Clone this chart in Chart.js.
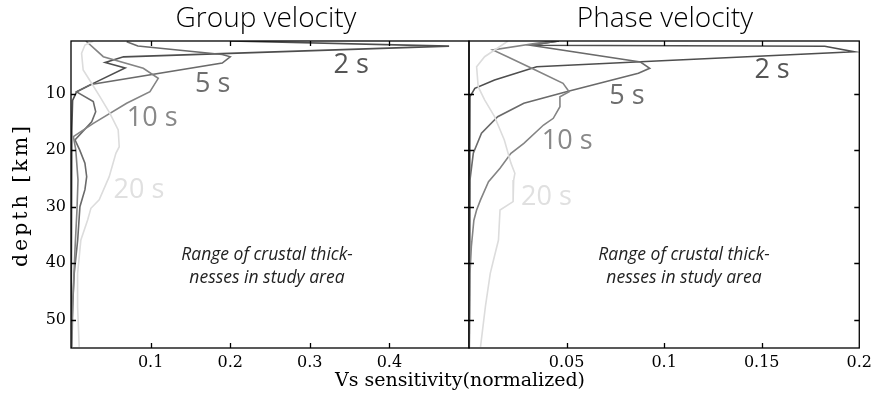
<!DOCTYPE html>
<html><head><meta charset="utf-8">
<script src="https://cdn.jsdelivr.net/npm/chart.js@4.4.1/dist/chart.umd.min.js"></script>
<style>
html,body{margin:0;padding:0;background:#fff;}
#wrap{position:relative;width:877px;height:399px;background:#fff;}
canvas{position:absolute;left:0;top:0;}
</style></head><body>
<div id="wrap"><canvas id="c1" width="877" height="399"></canvas><canvas id="c2" width="877" height="399"></canvas></div>
<script>
// ---------- data ----------
const periods = ['2 s', '5 s', '10 s', '20 s'];
const depthTicks = [10, 20, 30, 40, 50];
const groupXTicks = [0.1, 0.2, 0.3, 0.4];
const phaseXTicks = [0.05, 0.1, 0.15, 0.2];

// Group velocity sensitivity kernels (sensitivity, depth km)
const groupSens2  = [0.200, 0.475, 0.066, 0.043, 0.068, 0.028, 0.007, 0.002, 0.001, 0.0005, 0.0, 0.0];
const groupDepth2 = [0.7,   1.6,   3.5,   4.5,   5.45,  8.2,   9.7,   11.2,  16.5,  25,     30,  55];
const groupSens5  = [0.070, 0.084, 0.190, 0.200, 0.190, 0.025, 0.007, 0.028, 0.031, 0.026, 0.005, 0.011, 0.0175, 0.0197, 0.0175, 0.0112, 0.0084, 0.0041, 0.002, 0.001, 0.0005];
const groupDepth5 = [0.85,  1.6,   3.1,   3.5,   4.6,   8.4,   9.7,   11.4,  13.2,  15.0,  18.2,  20.0,  22.3,   24.7,   27.0,   30.0,   35.9,   41.7,   47.7,  51.8,  54.8];
const groupSens10  = [0.0187, 0.0406, 0.0908, 0.1096, 0.0992, 0.0699, 0.0281, 0.003, 0.006, 0.0088, 0.0075, 0.005, 0.0024, 0.0011];
const groupDepth10 = [0.7,    3.48,   5.53,   7.3,    9.67,   11.72,  15.26,  17.6,  19.96, 25.3,   30.6,   37.6,  46.5,   54.8];
const groupSens20  = [0.0279, 0.0175, 0.0133, 0.0153, 0.0259, 0.0363, 0.0489, 0.0593, 0.0606, 0.0564, 0.048, 0.0354, 0.025, 0.0209, 0.0124, 0.0083, 0.0083, 0.0103];
const groupDepth20 = [0.73,   1.41,   2.88,   5.83,   8.18,   10.55,  13.49,  16.44,  19.4,   20.56,  24.7,  28.8,   30.29, 32.36,  35.9,   41.8,   47.7,   54.8];

// Phase velocity sensitivity kernels
const phaseSens2  = [0.046, 0.0315, 0.1823, 0.1973, 0.096, 0.0347, 0.0131, 0.003, 0.0005, 0.0003, 0.0001, 0.0, 0.0];
const phaseDepth2 = [0.7,   1.46,   1.64,   2.59,   4.24,  5.25,   7.6,    9.07,  10.55,  16.4,   25.3,   37.7, 54.8];
const phaseSens5  = [0.046, 0.0315, 0.0879, 0.0926, 0.0868, 0.0499, 0.0281, 0.0147, 0.0064, 0.0022, 0.0005, 0.0003, 0.0001, 0.0];
const phaseDepth5 = [0.7,   1.46,   4.41,   5.53,   6.41,   9.67,   11.72,  14.09,  17.02,  20.56,  25.3,   32.4,   39.4,   54.8];
const phaseSens10  = [0.042, 0.0122, 0.0197, 0.034, 0.0482, 0.0513, 0.0466, 0.0466, 0.0432, 0.0382, 0.0281, 0.0215, 0.0159, 0.010, 0.0059, 0.0039, 0.0025, 0.0012, 0.0005, 0.0003, 0.0];
const phaseDepth10 = [0.7,   2.29,   3.48,   5.83,  8.18,   9.67,   10.55,  12.32,  14.37,  15.56,  18.79,  20.56,  23.2,   25.6,  28.8,   30.6,   32.4,   37.1,   41.8,   47.7,   54.8];
const phaseSens20  = [0.020, 0.008, 0.0039, 0.0047, 0.008, 0.0131, 0.0181, 0.0215, 0.0235, 0.0229, 0.0226, 0.0159, 0.0151, 0.0126, 0.0109, 0.0084, 0.0059];
const phaseDepth20 = [0.7,   3.48,  5.25,   8.78,   11.1,  14.09,  18.2,   22.3,   24.1,   25.3,   29.1,   30.6,   35.9,   39.4,   41.8,   47.7,   54.8];

// ---------- styles / layout ----------
const lineColors  = ['#4e4e4e', '#6a6a6a', '#848484', '#dcdcdc'];
const labelColors = ['#555555', '#6e6e6e', '#888888', '#e0e0e0'];
const groupLabelPos = [[0.352, 4.94], [0.178, 8.3], [0.102, 14.3], [0.0853, 27.05]];
const phaseLabelPos = [[0.1553, 5.83], [0.0809, 10.43], [0.0503, 18.4], [0.0397, 28.3]];

function series(sens, depth) { return sens.map((x, i) => ({ x: x, y: depth[i] })); }
function makeDatasets(list) {
  const order = [3, 2, 1, 0];
  return order.map(i => ({
    label: periods[i],
    data: series(list[i][0], list[i][1]),
    showLine: true,
    borderColor: lineColors[i],
    backgroundColor: lineColors[i],
    borderWidth: 1.6,
    pointRadius: 0,
    tension: 0,
    fill: false
  }));
}

const framePlugin = {
  id: 'frame',
  afterDatasetsDraw(chart) {
    const { ctx, chartArea: a, scales } = chart;
    ctx.save();
    ctx.strokeStyle = '#000';
    ctx.lineWidth = 1.3;
    ctx.strokeRect(a.left, a.top, a.right - a.left, a.bottom - a.top);
    ctx.beginPath();
    scales.x.ticks.forEach(t => {
      const px = Math.round(scales.x.getPixelForValue(t.value)) + 0.5;
      if (px <= a.left + 2 || px >= a.right - 2) return;
      ctx.moveTo(px, a.bottom); ctx.lineTo(px, a.bottom - 5);
      ctx.moveTo(px, a.top); ctx.lineTo(px, a.top + 5);
    });
    scales.y.ticks.forEach(t => {
      const py = Math.round(scales.y.getPixelForValue(t.value)) + 0.5;
      ctx.moveTo(a.left, py); ctx.lineTo(a.left + 5, py);
      ctx.moveTo(a.right, py); ctx.lineTo(a.right - 5, py);
    });
    ctx.stroke();
    ctx.restore();
  }
};

const labelPlugin = {
  id: 'seriesLabels',
  afterDraw(chart, args, opts) {
    const { ctx, scales } = chart;
    ctx.save();
    ctx.textAlign = 'center';
    ctx.textBaseline = 'middle';
    ctx.font = '27px "Open Sans"';
    opts.pos.forEach((p, i) => {
      ctx.fillStyle = labelColors[i];
      ctx.fillText(periods[i], scales.x.getPixelForValue(p[0]), scales.y.getPixelForValue(p[1]));
    });
    // panel title
    ctx.fillStyle = '#000';
    ctx.font = '300 28px "Open Sans"';
    ctx.textBaseline = 'alphabetic';
    ctx.fillText(opts.title, opts.titleX, 27);
    // annotation
    ctx.font = 'italic 17.5px "Open Sans"';
    ctx.fillStyle = '#222';
    ctx.textBaseline = 'middle';
    ctx.fillText('Range of crustal thick-', opts.noteX, 255);
    ctx.fillText('nesses in study area', opts.noteX, 278);
    if (opts.axisTitles) {
      ctx.fillStyle = '#000';
      ctx.font = '19px "DejaVu Serif"';
      ctx.textAlign = 'center';
      ctx.fillText('Vs sensitivity(normalized)', 460, 381);
      ctx.save();
      ctx.translate(22, 195);
      ctx.rotate(-Math.PI / 2);
      ctx.font = '20.5px "DejaVu Serif"';
      try { ctx.letterSpacing = '3px'; } catch (e) {}
      ctx.fillText('depth [km]', 0, 0);
      ctx.restore();
    }
    ctx.restore();
  }
};

function makeChart(id, datasets, xmin, xmax, xTicks, padLeft, padRight, showY, labelOpts) {
  return new Chart(document.getElementById(id), {
    type: 'scatter',
    data: { datasets: datasets },
    options: {
      responsive: false,
      animation: false,
      devicePixelRatio: 1,
      layout: { padding: { left: padLeft, right: padRight, top: 41, bottom: 0 } },
      plugins: { legend: { display: false }, tooltip: { enabled: false }, seriesLabels: labelOpts },
      scales: {
        x: {
          type: 'linear', position: 'bottom', min: xmin, max: xmax,
          grid: { display: false, drawTicks: false },
          border: { display: false },
          afterBuildTicks: s => { s.ticks = xTicks.map(v => ({ value: v })); },
          afterFit: s => { s.height = 51; },
          ticks: { color: '#000', padding: 5, maxRotation: 0, autoSkip: false,
                   font: { family: 'DejaVu Serif', size: 16 }, callback: v => String(v) }
        },
        y: {
          type: 'linear', position: 'left', reverse: true, min: 0.7, max: 55,
          grid: { display: false, drawTicks: false },
          border: { display: false },
          afterBuildTicks: s => { s.ticks = depthTicks.map(v => ({ value: v })); },
          afterFit: s => { s.width = showY ? 71 : 0; },
          ticks: { display: showY, color: '#000', padding: 5, autoSkip: false,
                   font: { family: 'DejaVu Serif', size: 16 }, callback: v => String(v) }
        }
      }
    },
    plugins: [framePlugin, labelPlugin]
  });
}

makeChart('c1',
  makeDatasets([[groupSens2, groupDepth2], [groupSens5, groupDepth5], [groupSens10, groupDepth10], [groupSens20, groupDepth20]]),
  0, 0.5, groupXTicks, 0, 877 - 469, true,
  { pos: groupLabelPos, title: 'Group velocity', titleX: 266, noteX: 267, axisTitles: true });

makeChart('c2',
  makeDatasets([[phaseSens2, phaseDepth2], [phaseSens5, phaseDepth5], [phaseSens10, phaseDepth10], [phaseSens20, phaseDepth20]]),
  0, 0.2, phaseXTicks, 469, 877 - 867, false,
  { pos: phaseLabelPos, title: 'Phase velocity', titleX: 665, noteX: 684, axisTitles: false });
</script>
</body></html>
